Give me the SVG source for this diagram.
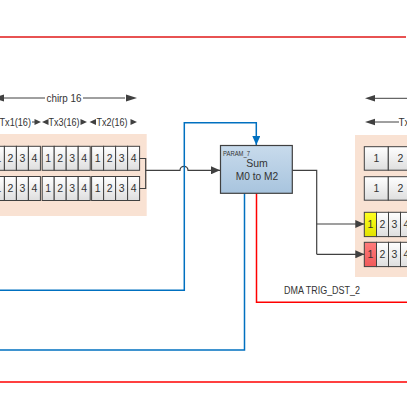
<svg xmlns="http://www.w3.org/2000/svg" width="407" height="417" viewBox="0 0 407 417">
<defs>
<linearGradient id="cellg" x1="0" y1="0" x2="0" y2="1"><stop offset="0" stop-color="#ffffff"/><stop offset="1" stop-color="#dedede"/></linearGradient>
<linearGradient id="yelg" x1="0" y1="0" x2="0" y2="1"><stop offset="0" stop-color="#ffff20"/><stop offset="1" stop-color="#e2e200"/></linearGradient>
<linearGradient id="redg" x1="0" y1="0" x2="0" y2="1"><stop offset="0" stop-color="#ff7a7a"/><stop offset="1" stop-color="#f05a5a"/></linearGradient>
<linearGradient id="boxg" x1="0" y1="0" x2="0" y2="1"><stop offset="0" stop-color="#c8dbec"/><stop offset="1" stop-color="#a8c4de"/></linearGradient>
<marker id="ah" markerWidth="10" markerHeight="8" refX="9" refY="4" orient="auto" markerUnits="userSpaceOnUse"><path d="M0,0 L9,4 L0,8 Z" fill="#404040"/></marker>
<marker id="ahb" markerWidth="10" markerHeight="8" refX="9" refY="4" orient="auto" markerUnits="userSpaceOnUse"><path d="M0,0 L9,4 L0,8 Z" fill="#0070c0"/></marker>
</defs>
<style>
.c{fill:url(#cellg);stroke:#404040;stroke-width:1}
.y{fill:url(#yelg);stroke:#404040;stroke-width:1}
.r{fill:url(#redg);stroke:#404040;stroke-width:1}
.n{font-family:"Liberation Sans",Arial,sans-serif;font-size:10.5px;fill:#333;text-anchor:middle}
.t{font-family:"Liberation Sans",Arial,sans-serif;fill:#333}
.ln{fill:none;stroke:#404040;stroke-width:1.2}
.bl{fill:none;stroke:#0070c0;stroke-width:1.5}
.rd{fill:none;stroke:#ff0000;stroke-width:1.5}
.pe{fill:#f9e2d3}
</style>
<line x1="0" y1="37" x2="406" y2="37" stroke="#e01818" stroke-width="1.4"/>
<line x1="0" y1="382" x2="407" y2="382" stroke="#ff0000" stroke-width="1.5"/>

<g id="labels-left">
<line x1="4" y1="98" x2="125" y2="98" stroke="#404040" stroke-width="1"/>
<path d="M-7,98 L4,94.5 L4,101.5 Z" fill="#404040"/>
<path d="M137,98 L126,94.5 L126,101.5 Z" fill="#404040"/>
<rect x="45" y="91" width="38" height="12" fill="#fff"/>
<text class="t" x="64" y="101.8" font-size="10.5" text-anchor="middle" textLength="35" lengthAdjust="spacingAndGlyphs">chirp 16</text>
<text class="t" x="-0.5" y="125.8" font-size="10" textLength="31.5" lengthAdjust="spacingAndGlyphs">Tx1(16)</text>
<path d="M32,122 H35" stroke="#404040" stroke-width="1"/><path d="M41,122 L34.5,119 L34.5,125 Z" fill="#404040"/>
<path d="M42,122 L48.5,119 L48.5,125 Z" fill="#404040"/>
<text class="t" x="48.5" y="125.8" font-size="10" textLength="31" lengthAdjust="spacingAndGlyphs">Tx3(16)</text>
<path d="M87,122 L80.5,119 L80.5,125 Z" fill="#404040"/>
<path d="M89.5,122 L96,119 L96,125 Z" fill="#404040"/>
<text class="t" x="96.5" y="125.8" font-size="10" textLength="31" lengthAdjust="spacingAndGlyphs">Tx2(16)</text>
<path d="M137,122 L130.5,119 L130.5,125 Z" fill="#404040"/>
</g>

<g id="left-buffer">
<rect class="pe" x="0" y="134" width="146.7" height="82"/>
<g id="left-row1">
<rect class="c" x="-7.6" y="146.3" width="12" height="24"/><rect class="c" x="4.4" y="146.3" width="12" height="24"/><rect class="c" x="16.4" y="146.3" width="12" height="24"/><rect class="c" x="28.4" y="146.3" width="12" height="24"/>
<rect class="c" x="42.2" y="146.3" width="12" height="24"/><rect class="c" x="54.2" y="146.3" width="12" height="24"/><rect class="c" x="66.2" y="146.3" width="12" height="24"/><rect class="c" x="78.2" y="146.3" width="12" height="24"/>
<rect class="c" x="91.6" y="146.3" width="12" height="24"/><rect class="c" x="103.6" y="146.3" width="12" height="24"/><rect class="c" x="115.6" y="146.3" width="12" height="24"/><rect class="c" x="127.6" y="146.3" width="12" height="24"/>
<text class="n" y="162.2"><tspan x="-1.6">1</tspan><tspan x="10.4">2</tspan><tspan x="22.4">3</tspan><tspan x="34.4">4</tspan><tspan x="48.2">1</tspan><tspan x="60.2">2</tspan><tspan x="72.2">3</tspan><tspan x="84.2">4</tspan><tspan x="97.6">1</tspan><tspan x="109.6">2</tspan><tspan x="121.6">3</tspan><tspan x="133.6">4</tspan></text>
</g>
<g id="left-row2">
<rect class="c" x="-7.6" y="176.5" width="12" height="24"/><rect class="c" x="4.4" y="176.5" width="12" height="24"/><rect class="c" x="16.4" y="176.5" width="12" height="24"/><rect class="c" x="28.4" y="176.5" width="12" height="24"/>
<rect class="c" x="42.2" y="176.5" width="12" height="24"/><rect class="c" x="54.2" y="176.5" width="12" height="24"/><rect class="c" x="66.2" y="176.5" width="12" height="24"/><rect class="c" x="78.2" y="176.5" width="12" height="24"/>
<rect class="c" x="91.6" y="176.5" width="12" height="24"/><rect class="c" x="103.6" y="176.5" width="12" height="24"/><rect class="c" x="115.6" y="176.5" width="12" height="24"/><rect class="c" x="127.6" y="176.5" width="12" height="24"/>
<text class="n" y="192.4"><tspan x="-1.6">1</tspan><tspan x="10.4">2</tspan><tspan x="22.4">3</tspan><tspan x="34.4">4</tspan><tspan x="48.2">1</tspan><tspan x="60.2">2</tspan><tspan x="72.2">3</tspan><tspan x="84.2">4</tspan><tspan x="97.6">1</tspan><tspan x="109.6">2</tspan><tspan x="121.6">3</tspan><tspan x="133.6">4</tspan></text>
</g>
</g>

<g id="labels-right">
<line x1="374" y1="98.3" x2="407" y2="98.3" stroke="#404040" stroke-width="1"/>
<path d="M365,98.3 L375,95 L375,101.6 Z" fill="#404040"/>
<line x1="374" y1="122" x2="399" y2="122" stroke="#404040" stroke-width="1"/>
<path d="M365,122 L375,118.7 L375,125.3 Z" fill="#404040"/>
<text class="t" x="398.5" y="125.8" font-size="10">Tx</text>
</g>

<g id="right-buffer">
<rect class="pe" x="355" y="135" width="52" height="142"/>
<rect class="c" x="364.3" y="146.7" width="24" height="23.5"/><rect class="c" x="388.3" y="146.7" width="24" height="23.5"/>
<text class="n" x="376.3" y="162.2">1</text><text class="n" x="400.3" y="162.2">2</text>
<rect class="c" x="364.3" y="176.7" width="24" height="23.5"/><rect class="c" x="388.3" y="176.7" width="24" height="23.5"/>
<text class="n" x="376.3" y="192.2">1</text><text class="n" x="400.3" y="192.2">2</text>
<rect class="y" x="364.3" y="212.3" width="12.2" height="24.3"/><rect class="c" x="376.5" y="212.3" width="12" height="24.3"/><rect class="c" x="388.5" y="212.3" width="12" height="24.3"/><rect class="c" x="400.5" y="212.3" width="12" height="24.3"/>
<text class="n" y="228.2"><tspan x="370.4">1</tspan><tspan x="382.5">2</tspan><tspan x="394.5">3</tspan><tspan x="406.5">4</tspan></text>
<rect class="r" x="364.3" y="242.3" width="12.2" height="24.3"/><rect class="c" x="376.5" y="242.3" width="12" height="24.3"/><rect class="c" x="388.5" y="242.3" width="12" height="24.3"/><rect class="c" x="400.5" y="242.3" width="12" height="24.3"/>
<text class="n" y="258.2"><tspan x="370.4">1</tspan><tspan x="382.5">2</tspan><tspan x="394.5">3</tspan><tspan x="406.5">4</tspan></text>
</g>

<g id="connectors">
<path class="ln" d="M139.6,158.5 H145.7 V188.5 H139.6"/>
<path class="ln" d="M145.7,170.3 H180 A4,4 0 0 1 188,170.3 H220" marker-end="url(#ah)"/>
<path class="bl" d="M0,290.3 H184.3 V122.7 H256.3 V145" marker-end="url(#ahb)"/>
<path class="bl" d="M0,350 H244.5 V193.3"/>
<path class="rd" d="M256.5,193.3 V302.3 H407"/>
<path class="ln" d="M292.3,170.3 H316.7 V254.3"/>
<path class="ln" d="M316.7,224 H364.3" marker-end="url(#ah)"/>
<path class="ln" d="M316.7,254.3 H364.3" marker-end="url(#ah)"/>
<text class="t" x="284" y="293.8" font-size="10" textLength="76" lengthAdjust="spacingAndGlyphs">DMA TRIG_DST_2</text>
</g>

<g id="sum-node">
<rect x="220.5" y="145.5" width="71.8" height="47.8" fill="url(#boxg)" stroke="#404040" stroke-width="1.2"/>
<text class="t" x="223" y="156" font-size="7" textLength="27" lengthAdjust="spacingAndGlyphs">PARAM_7</text>
<text class="t" x="257" y="167.2" font-size="10.5" text-anchor="middle">Sum</text>
<text class="t" x="257" y="179.7" font-size="10.5" text-anchor="middle" textLength="42.5" lengthAdjust="spacingAndGlyphs">M0 to M2</text>
</g>
</svg>
